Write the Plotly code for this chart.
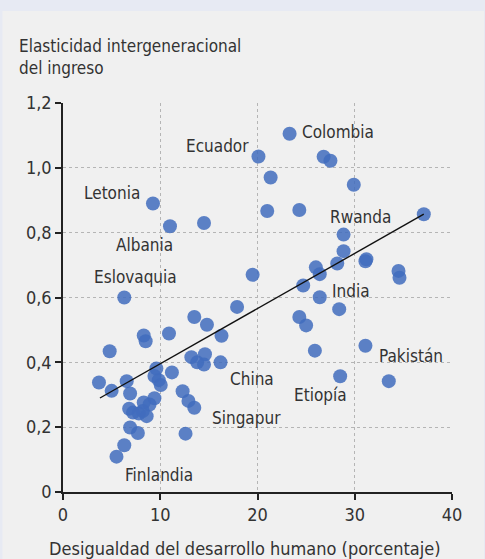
import plotly.graph_objects as go

# Desigualdad del desarrollo humano (%) vs elasticidad intergeneracional del ingreso
desigualdad = [
    9.25, 11.0, 14.5, 19.5, 6.3, 23.3, 20.1, 26.8, 27.5, 21.35,
    29.9, 21.0, 24.3, 37.1, 28.85, 28.85, 31.2, 31.1, 26.0, 26.4,
    28.2, 34.5, 34.6, 24.7, 26.4, 28.4, 17.9, 24.3, 25.0, 25.9,
    31.1, 28.5, 33.5, 13.5, 14.8, 16.3, 10.9, 8.3, 8.5, 4.8,
    13.2, 14.6, 13.8, 14.5, 16.2, 9.6, 9.4, 9.85, 10.05, 11.2,
    3.7, 5.0, 6.55, 6.9, 12.3, 12.9, 13.5, 9.4, 8.9, 8.3,
    6.8, 7.2, 7.8, 8.2, 8.6, 6.9, 7.7, 12.6, 6.3, 5.5,
]
elasticidad = [
    0.89, 0.82, 0.83, 0.67, 0.60, 1.105, 1.035, 1.034, 1.022, 0.97,
    0.948, 0.867, 0.870, 0.857, 0.794, 0.743, 0.718, 0.712, 0.693, 0.672,
    0.705, 0.682, 0.661, 0.637, 0.601, 0.564, 0.571, 0.540, 0.514, 0.436,
    0.451, 0.357, 0.342, 0.540, 0.516, 0.482, 0.489, 0.483, 0.465, 0.434,
    0.416, 0.425, 0.400, 0.393, 0.400, 0.381, 0.358, 0.345, 0.330, 0.369,
    0.338, 0.312, 0.342, 0.304, 0.311, 0.281, 0.260, 0.289, 0.270, 0.276,
    0.257, 0.245, 0.242, 0.250, 0.234, 0.199, 0.182, 0.180, 0.144, 0.109,
]

# linea de tendencia (extremos)
trend_x = [3.8, 37.1]
trend_y = [0.29, 0.857]

# etiquetas de paises
label_text = ["Ecuador", "Colombia", "Letonia", "Albania", "Eslovaquia", "Rwanda",
              "India", "Pakistán", "China", "Etiopía", "Singapur", "Finlandia"]
label_x = [15.9, 28.3, 5.0, 8.4, 7.5, 30.6, 29.6, 35.8, 19.4, 26.45, 18.9, 9.9]
label_y = [1.068, 1.112, 0.923, 0.763, 0.664, 0.849, 0.619, 0.421, 0.350, 0.298, 0.229, 0.053]

x_ticks = [0, 10, 20, 30, 40]
y_ticks = [0, 0.2, 0.4, 0.6, 0.8, 1.0, 1.2]
y_ticktext = ["0", "0,2", "0,4", "0,6", "0,8", "1,0", "1,2"]

FONT = "DejaVu Sans Condensed, Roboto, sans-serif"
TXT = "#333333"

fig = go.Figure()

fig.add_trace(go.Scatter(
    x=desigualdad, y=elasticidad, mode="markers",
    marker=dict(size=14, color="#416cbd", opacity=0.85, line=dict(width=0)),
    hoverinfo="x+y", showlegend=False,
))

fig.add_trace(go.Scatter(
    x=trend_x, y=trend_y, mode="lines",
    line=dict(color="#111111", width=1.4),
    hoverinfo="skip", showlegend=False,
))

for t, lx, ly in zip(label_text, label_x, label_y):
    fig.add_annotation(x=lx, y=ly, text=t, showarrow=False,
                       xanchor="center", yanchor="middle",
                       font=dict(size=17, color=TXT, family=FONT))

# titulo del eje y (horizontal, arriba a la izquierda)
fig.add_annotation(xref="paper", yref="paper", x=-0.118, y=1.058,
                   text="Elasticidad intergeneracional<br>del ingreso",
                   showarrow=False, xanchor="left", yanchor="bottom", align="left",
                   font=dict(size=17, color=TXT, family=FONT))

# titulo del eje x (un poco a la izquierda del centro, como en el original)
fig.add_annotation(xref="paper", yref="paper", x=0.469, y=-0.144,
                   text="Desigualdad del desarrollo humano (porcentaje)",
                   showarrow=False, xanchor="center", yanchor="middle",
                   font=dict(size=18, color=TXT, family=FONT))

# fondo gris con franja azul arriba
fig.add_shape(type="rect", xref="paper", yref="paper",
              x0=-0.1555, x1=1.0823, y0=-0.1722, y1=1.2365,
              fillcolor="#f0f0f0", line=dict(width=0), layer="below")

fig.update_xaxes(
    range=[0, 40], tickvals=x_ticks, showgrid=True, automargin=False,
    gridcolor="#b5b5b5", griddash="dot", gridwidth=1,
    showline=True, linecolor="#222222", linewidth=1.5,
    ticks="outside", ticklen=6, tickcolor="#222222", tickwidth=1.5,
    zeroline=False, tickfont=dict(size=18, color=TXT, family=FONT),
)
fig.update_yaxes(
    range=[0, 1.2], tickvals=y_ticks, ticktext=y_ticktext, showgrid=True,
    automargin=False,
    gridcolor="#b5b5b5", griddash="dot", gridwidth=1,
    showline=True, linecolor="#222222", linewidth=1.5,
    ticks="outside", ticklen=6, tickcolor="#222222", tickwidth=1.5,
    zeroline=False, tickfont=dict(size=18, color=TXT, family=FONT),
)

fig.update_layout(
    width=485, height=559,
    margin=dict(l=63, r=33, t=103, b=67),
    paper_bgcolor="#e7eaf3", plot_bgcolor="rgba(0,0,0,0)",
    font=dict(family=FONT, color=TXT),
    separators=", ",
)

fig.write_html("out.html", config={"displayModeBar": False},
               post_script="document.body.style.margin='0';")
